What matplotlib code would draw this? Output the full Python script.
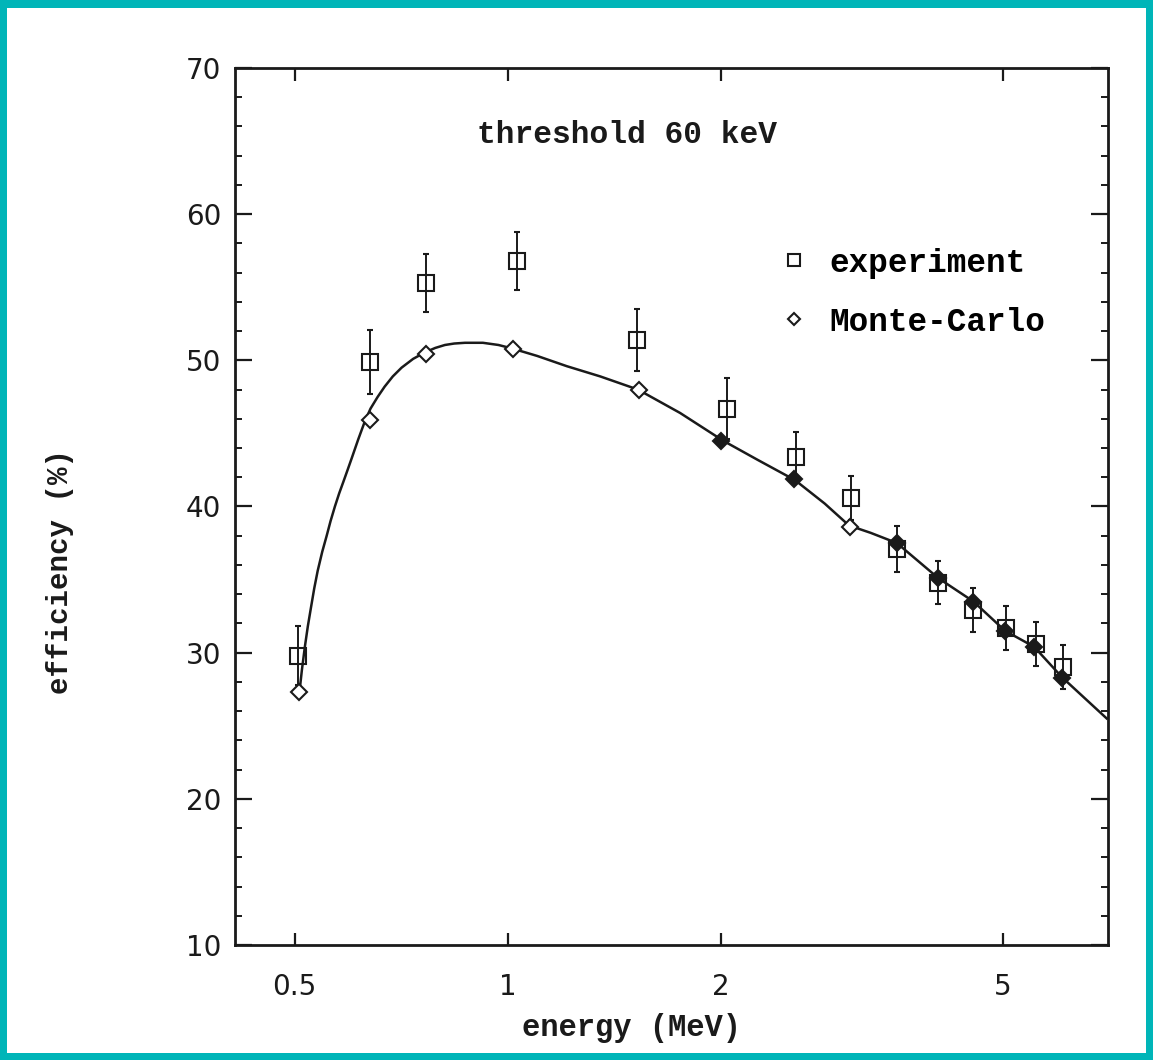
import matplotlib
matplotlib.use("Agg")
import matplotlib.pyplot as plt
from matplotlib.patches import Rectangle
from matplotlib.ticker import FixedLocator, NullLocator, MultipleLocator, FixedFormatter

# ---- data ----
exp_energy = [0.505, 0.638, 0.766, 1.03, 1.52, 2.04, 2.55, 3.05, 3.54, 4.04, 4.54, 5.05, 5.57, 6.08]
exp_eff    = [29.8, 49.9, 55.3, 56.8, 51.4, 46.7, 43.4, 40.6, 37.1, 34.8, 32.9, 31.7, 30.6, 29.0]
exp_err    = [2.0, 2.2, 2.0, 2.0, 2.1, 2.1, 1.7, 1.5, 1.6, 1.5, 1.5, 1.5, 1.5, 1.5]

mc_energy = [0.508, 0.638, 0.766, 1.016, 1.53, 2.0, 2.53, 3.04, 3.54, 4.05, 4.54, 5.03, 5.53, 6.06]
mc_eff    = [27.3, 45.9, 50.4, 50.8, 48.0, 44.5, 41.9, 38.6, 37.5, 35.1, 33.5, 31.5, 30.4, 28.3]
mc_filled = [False, False, False, False, False, True, True, False, True, True, True, True, True, True]

curve_energy = [0.508, 0.512, 0.517, 0.522, 0.527, 0.533, 0.539, 0.547, 0.555, 0.562, 0.570, 0.578,
                0.586, 0.594, 0.602, 0.615, 0.628, 0.640, 0.655, 0.670, 0.688, 0.708, 0.735,
                0.764, 0.790, 0.815, 0.840, 0.870, 0.922, 0.97, 1.016, 1.10, 1.211, 1.35, 1.526,
                1.75, 2.013, 2.25, 2.543, 2.80, 3.03, 3.25, 3.54, 4.05, 4.54, 5.03, 5.53, 6.06, 7.0]
curve_eff    = [27.3, 28.8, 30.4, 31.8, 33.0, 34.4, 35.6, 36.9, 38.0, 39.0, 40.0, 40.9,
                41.7, 42.5, 43.3, 44.6, 45.8, 46.7, 47.5, 48.2, 48.9, 49.5, 50.1,
                50.55, 50.85, 51.05, 51.15, 51.2, 51.2, 51.05, 50.8, 50.3, 49.6, 48.9, 48.0,
                46.4, 44.5, 43.2, 41.8, 40.2, 38.7, 38.2, 37.5, 35.1, 33.5, 31.5, 30.4, 28.3, 25.5]

x_ticks = [0.5, 1, 2, 5]
x_ticklabels = ["0.5", "1", "2", "5"]

W, H = 1153, 1060
fig = plt.figure(figsize=(W / 100, H / 100), dpi=100)
fig.patch.set_facecolor("#00B5B8")
fig.patches.append(Rectangle((7 / W, 7 / H), 1 - 14 / W, 1 - 15 / H,
                             transform=fig.transFigure, facecolor="white",
                             edgecolor="none", zorder=-10))

ax = fig.add_axes([235 / W, 1 - 945 / H, (1108 - 235) / W, (945 - 68) / H])
ax.set_zorder(1)
ax.patch.set_alpha(0)
ax.set_xscale("log")
ax.set_xlim(0.412, 7.03)
ax.set_ylim(10, 70)

lc = "#1a1a1a"
ax.plot(curve_energy, curve_eff, color=lc, lw=1.8, zorder=2)

ax.errorbar(exp_energy, exp_eff, yerr=exp_err, fmt="s", ms=12, mfc="none", mec=lc,
            mew=1.5, ecolor=lc, elinewidth=1.4, capsize=2, capthick=1.4, zorder=3)

for e, v, f in zip(mc_energy, mc_eff, mc_filled):
    ax.plot([e], [v], marker="D", ms=8.5, mec=lc, mew=1.5,
            mfc=(lc if f else "white"), ls="none", zorder=4)

# legend handles (proxy, no data)
h1, = ax.plot([], [], "s", ms=9, mfc="none", mec=lc, mew=1.5)
h2, = ax.plot([], [], "D", ms=6.5, mfc="none", mec=lc, mew=1.5)
leg = ax.legend([h1, h2], ["experiment", "Monte-Carlo"], loc="upper left",
                bbox_to_anchor=(0.625, 0.795), frameon=False, handlelength=0.8,
                handletextpad=0.7, labelspacing=0.85, borderpad=0, borderaxespad=0,
                prop={"family": "Liberation Mono", "weight": "bold", "size": 23.5})

ax.text(0.449, 0.924, "threshold 60 keV", transform=ax.transAxes, ha="center", va="center",
        family="Liberation Mono", weight="bold", fontsize=22.5, color=lc)

for s in ax.spines.values():
    s.set_linewidth(2.0)
    s.set_color(lc)

ax.xaxis.set_major_locator(FixedLocator(x_ticks))
ax.xaxis.set_major_formatter(FixedFormatter(x_ticklabels))
ax.xaxis.set_minor_locator(NullLocator())
ax.yaxis.set_major_locator(MultipleLocator(10))
ax.yaxis.set_minor_locator(MultipleLocator(2))
ax.tick_params(which="major", direction="in", length=12, width=1.6, top=True, right=True,
               colors=lc, labelsize=20, pad=10)
ax.tick_params(which="minor", direction="in", length=5, width=1.4, top=True, right=True,
               colors=lc)
ax.tick_params(axis="x", which="major", length=9, pad=20)
for lab in ax.get_xticklabels() + ax.get_yticklabels():
    lab.set_family("DejaVu Sans")

ax.set_xlabel("energy (MeV)", family="Liberation Mono", weight="bold", fontsize=22, color=lc)
ax.set_ylabel("efficiency (%)", family="Liberation Mono", weight="bold", fontsize=21, color=lc)
ax.xaxis.set_label_coords((632 - 235) / 873, -(1028 - 945) / 877)
ax.yaxis.set_label_coords(-(235 - 60) / 873, (945 - 572) / 877)
ax.xaxis.label.set_va("center")
ax.yaxis.label.set_va("center")

fig.savefig("out.png", dpi=100, facecolor=fig.get_facecolor())
